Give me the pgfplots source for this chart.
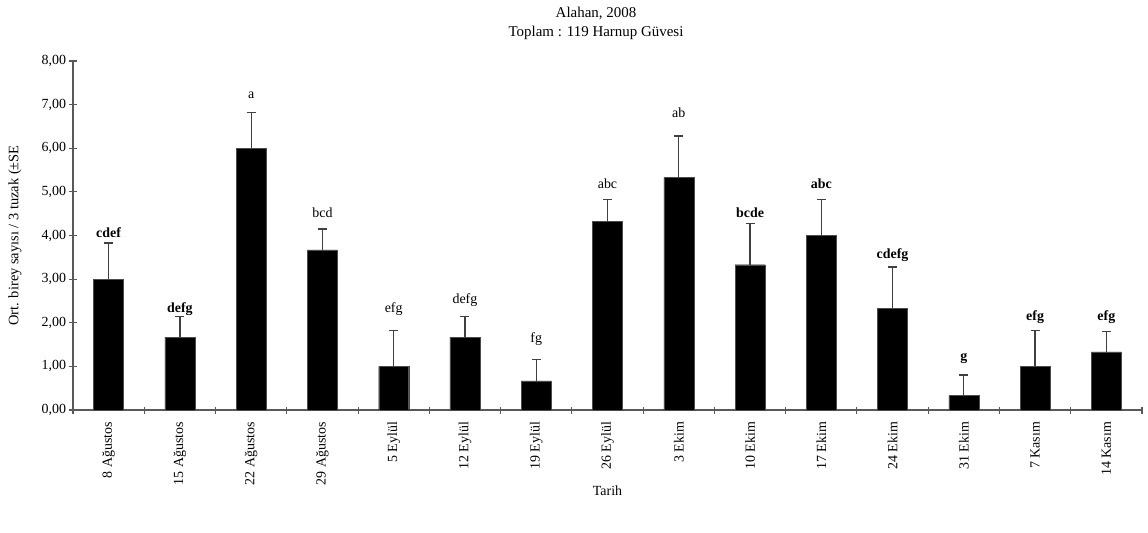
\documentclass[border=0pt]{standalone}
\usepackage{fontspec}
\setmainfont{Liberation Serif}
\usepackage{pgfplots}
\pgfplotsset{compat=1.18}
\begin{document}
\begin{tikzpicture}
\begin{axis}[
  scale only axis,
  width=1069bp, height=349bp,
  xmin=0.5, xmax=15.5, ymin=0, ymax=8,
  axis lines=left,
  axis line style={-, draw=black!65, line width=1.1pt},
  ytick={0,1,...,8},
  yticklabel style={/pgf/number format/fixed, /pgf/number format/fixed zerofill, /pgf/number format/precision=2, /pgf/number format/use comma, /pgf/number format/assume math mode=true, font=\fontsize{14}{16}\selectfont},
  xtick={1,...,15},
  xticklabels={8 Ağustos,15 Ağustos,22 Ağustos,29 Ağustos,5 Eylül,12 Eylül,19 Eylül,26 Eylül,3 Ekim,10 Ekim,17 Ekim,24 Ekim,31 Ekim,7 Kasım,14 Kasım},
  xticklabel style={rotate=90, anchor=east, font=\fontsize{14}{16}\selectfont, xshift=-5bp},
  major x tick style={draw=none},
  minor xtick={0.5,1.5,...,15.5},
  tick align=center,
  major tick length=7bp,
  minor tick length=7bp,
  tick style={draw=black!65, line width=1.1pt},
  ylabel={Ort. birey sayısı / 3 tuzak (±SE},
  ylabel style={at={(axis description cs:-0.0543,0.5)}, anchor=center, font=\fontsize{14.5}{16}\selectfont},
  xlabel={Tarih},
  xlabel style={at={(axis description cs:0.5,-0.232)}, anchor=center, font=\fontsize{14}{16}\selectfont},
  clip=false,
]
\addplot[ybar, bar width=30bp, fill=black, draw=black!70,
  error bars/.cd, y dir=plus, y explicit,
  error bar style={draw=black!75, line width=1.3pt},
  error mark options={rotate=90, draw=black!75, line width=1.3pt, mark size=4.5bp}]
coordinates {
 (1,3.00) +- (0,0.83)
 (2,1.67) +- (0,0.48)
 (3,6.00) +- (0,0.82)
 (4,3.67) +- (0,0.48)
 (5,1.00) +- (0,0.82)
 (6,1.67) +- (0,0.48)
 (7,0.67) +- (0,0.48)
 (8,4.33) +- (0,0.49)
 (9,5.33) +- (0,0.95)
 (10,3.33) +- (0,0.95)
 (11,4.00) +- (0,0.82)
 (12,2.33) +- (0,0.95)
 (13,0.33) +- (0,0.47)
 (14,1.00) +- (0,0.82)
 (15,1.33) +- (0,0.47)
};
\addplot[only marks, mark=none, point meta=explicit symbolic,
  nodes near coords, nodes near coords align={center},
  every node near coord/.append style={anchor=center, font=\fontsize{14}{16}\selectfont}]
coordinates {
 (1,4.06) [\textbf{cdef}]
 (2,2.32) [\textbf{defg}]
 (3,7.22) [a]
 (4,4.52) [bcd]
 (5,2.32) [efg]
 (6,2.52) [defg]
 (7,1.63) [fg]
 (8,5.18) [abc]
 (9,6.81) [ab]
 (10,4.52) [\textbf{bcde}]
 (11,5.18) [\textbf{abc}]
 (12,3.56) [\textbf{cdefg}]
 (13,1.19) [\textbf{g}]
 (14,2.13) [\textbf{efg}]
 (15,2.13) [\textbf{efg}]
};
\end{axis}
\node[font=\fontsize{15}{17}\selectfont] at (523bp,397bp) {Alahan, 2008};
\node[font=\fontsize{15}{17}\selectfont] at (523bp,377bp) {Toplam : 119 Harnup Güvesi};
\path (-73bp,-123bp) rectangle (1075bp,410bp);
\end{tikzpicture}
\end{document}
